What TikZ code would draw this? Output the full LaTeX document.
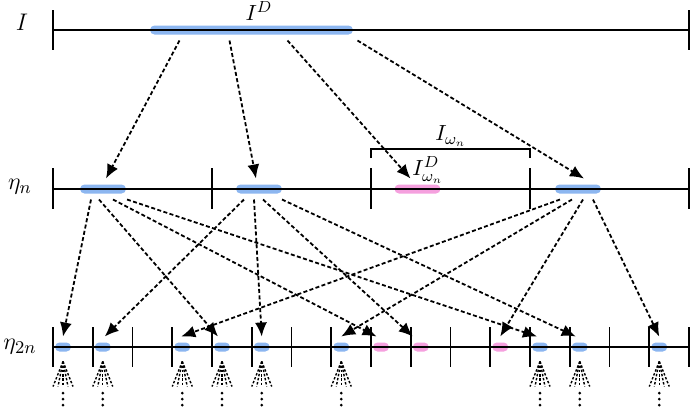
\documentclass[tikz,border=0pt]{standalone}
\usepackage{amsmath,amssymb}
\usepackage{xcolor}
\usetikzlibrary{positioning,arrows.meta}

\definecolor{barblue}{RGB}{140,182,240}
\definecolor{barpink}{RGB}{245,160,222}

\begin{document}
\begin{tikzpicture}[x=0.5pt,y=-0.5pt,
    axisline/.style={line width=0.8pt},
    bar/.style={fill=#1,draw=none,rounded corners=2.25pt,minimum height=4.5pt,inner sep=0pt,outer sep=3pt},
    blob/.style={bar=#1,minimum width=8pt},
    arr/.style={-{Latex[length=7pt,width=6pt]},line width=0.9pt,dash pattern=on 2pt off 1.2pt},
    fan/.style={line width=0.7pt,dash pattern=on 1.2pt off 0.9pt},
    lab/.style={font=\fontsize{12.5}{15}\selectfont},
    sublab/.style={font=\fontsize{11}{13}\selectfont}]
    \useasboundingbox (0,0) rectangle (692,409);

    % bars
    \node[bar=barblue,minimum width=101.5pt] (t) at (251.5,30) {};
    \node[bar=barblue,minimum width=23pt] (m1) at (103,189) {};
    \node[bar=barblue,minimum width=23pt] (m2) at (259,189) {};
    \node[bar=barpink,minimum width=23pt] (m3) at (417.5,189) {};
    \node[bar=barblue,minimum width=23pt] (m4) at (578,189) {};
    \foreach \k/\c in {0/barblue,1/barblue,3/barblue,4/barblue,5/barblue,7/barblue,8/barpink,9/barpink,11/barpink,12/barblue,13/barblue,15/barblue}
        \node[blob=\c] (b\k) at (63+39.75*\k,347) {};

    % lines
    \draw[axisline] (53,30) -- (689,30);
    \foreach \x in {53,689} \draw[axisline] (\x,10) -- (\x,50);
    \draw[axisline] (53,189) -- (689,189);
    \foreach \i in {0,...,4} \draw[axisline] (53+159*\i,168) -- (53+159*\i,209);
    \draw[axisline] (53,347) -- (689,347);
    \foreach \i in {0,...,16} \draw[axisline] (53+39.75*\i,327) -- (53+39.75*\i,367);
    \draw[axisline] (371,158) -- (371,149) -- (530,149) -- (530,158);

    % labels
    \node[lab] (lI) at (22,22) {$I$};
    \node[lab] (lEta) at (20,187) {$\eta_n$};
    \node[lab] (lEtaTwo) at (20,347) {$\eta_{2n}$};
    \node[sublab] (lID) at (259,11) {$I^D$};
    \node[sublab] (lIw) at (451,136) {$I_{\omega_n}$};
    \node[sublab] (lIwD) at (428,170) {$I^D_{\omega_n}$};

    % arrows
    \draw[arr] ([xshift=-36pt]t.south) -- ([xshift=1.5pt]m1.north);
    \draw[arr] ([xshift=-11pt]t.south) -- ([xshift=-1.5pt]m2.north);
    \draw[arr] ([xshift=18pt]t.south) -- ([xshift=-3.5pt]m3.north);
    \draw[arr] ([xshift=53pt]t.south) -- ([xshift=3pt]m4.north);
    \foreach \a/\sa/\b/\sb in {m1/-6/b0/0,m1/-2/b4/-2,m1/5/b8/-2.25,m1/12/b12/-1.5,
        m2/-7.5/b1/1,m2/-2.5/b5/0,m2/2/b9/-4,m2/11.5/b13/-2,
        m4/-9/b3/-0.5,m4/-3/b7/0,m4/2.5/b11/0,m4/7.5/b15/0}
        \draw[arr] ([xshift=\sa pt]\a.south) -- ([xshift=\sb pt]\b.north);

    % fans
    \foreach \k in {0,1,3,4,5,7,12,13,15} {
        \foreach \d in {-10,-5,0,5,10}
            \draw[fan] ([yshift=-2pt]b\k.south) -- ++(\d,25);
        \foreach \y in {393,399,405}
            \fill (63+39.75*\k,\y) circle[radius=0.75pt];
    }
\end{tikzpicture}
\end{document}
